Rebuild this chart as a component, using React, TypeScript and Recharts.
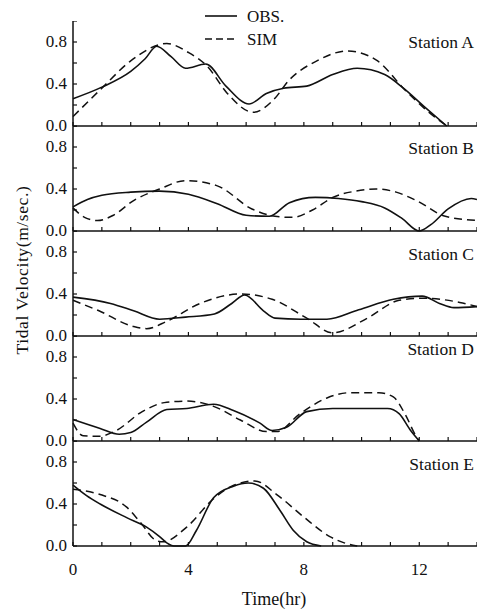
import React from "react";
import { LineChart, Line, XAxis, YAxis } from "recharts";

type Pt = { t: number; v: number };

const hourTicks = [0, 1, 2, 3, 4, 5, 6, 7, 8, 9, 10, 11, 12, 13, 14];
const hourLabels = [0, 4, 8, 12];
const velTicks = [0, 0.2, 0.4, 0.6, 0.8, 1.0];
const velLabels = [0, 0.4, 0.8];
const stationNames = ["Station A", "Station B", "Station C", "Station D", "Station E"];

// observed (solid)
const obsA: Pt[] = [
	{ t: 0, v: 0.26 }, { t: 1, v: 0.37 }, { t: 2, v: 0.52 }, { t: 2.5, v: 0.64 }, { t: 2.9, v: 0.76 },
	{ t: 3.4, v: 0.66 }, { t: 3.9, v: 0.55 }, { t: 4.6, v: 0.59 }, { t: 5.3, v: 0.38 }, { t: 6.1, v: 0.21 },
	{ t: 6.7, v: 0.31 }, { t: 7.3, v: 0.36 }, { t: 8.1, v: 0.38 }, { t: 9.0, v: 0.49 }, { t: 9.85, v: 0.55 },
	{ t: 10.8, v: 0.49 }, { t: 11.45, v: 0.36 }, { t: 12.15, v: 0.19 }, { t: 12.95, v: 0.0 },
];
const obsB: Pt[] = [
	{ t: 0, v: 0.23 }, { t: 0.5, v: 0.3 }, { t: 1, v: 0.34 }, { t: 2, v: 0.37 }, { t: 3, v: 0.38 },
	{ t: 4, v: 0.35 }, { t: 5, v: 0.26 }, { t: 6, v: 0.15 }, { t: 6.8, v: 0.14 }, { t: 7.5, v: 0.27 },
	{ t: 8.4, v: 0.32 }, { t: 9.2, v: 0.31 }, { t: 10, v: 0.28 }, { t: 10.8, v: 0.22 }, { t: 11.4, v: 0.12 },
	{ t: 12, v: 0.0 }, { t: 12.4, v: 0.06 }, { t: 13, v: 0.21 }, { t: 13.8, v: 0.31 }, { t: 14, v: 0.3 },
];
const obsC: Pt[] = [
	{ t: 0, v: 0.37 }, { t: 1.3, v: 0.31 }, { t: 2.1, v: 0.24 }, { t: 3, v: 0.16 }, { t: 3.9, v: 0.18 },
	{ t: 4.9, v: 0.21 }, { t: 5.5, v: 0.31 }, { t: 5.95, v: 0.39 }, { t: 6.6, v: 0.24 }, { t: 7.0, v: 0.17 },
	{ t: 7.9, v: 0.16 }, { t: 8.8, v: 0.16 }, { t: 9.9, v: 0.25 }, { t: 11.1, v: 0.35 }, { t: 12.1, v: 0.38 },
	{ t: 12.7, v: 0.31 }, { t: 13.2, v: 0.27 }, { t: 14, v: 0.28 },
];
const obsD: Pt[] = [
	{ t: 0, v: 0.205 }, { t: 0.94, v: 0.12 }, { t: 1.6, v: 0.065 }, { t: 2.0, v: 0.08 }, { t: 2.55, v: 0.18 },
	{ t: 3.25, v: 0.3 }, { t: 3.94, v: 0.31 }, { t: 4.87, v: 0.35 }, { t: 5.56, v: 0.29 }, { t: 6.48, v: 0.17 },
	{ t: 6.9, v: 0.1 }, { t: 7.4, v: 0.13 }, { t: 8.1, v: 0.28 }, { t: 9.0, v: 0.31 }, { t: 10.0, v: 0.31 },
	{ t: 10.9, v: 0.31 }, { t: 11.3, v: 0.26 }, { t: 11.7, v: 0.1 }, { t: 12.0, v: 0.0 },
];
const obsE: Pt[] = [
	{ t: 0, v: 0.58 }, { t: 0.47, v: 0.48 }, { t: 0.94, v: 0.4 }, { t: 1.86, v: 0.27 }, { t: 2.55, v: 0.18 },
	{ t: 3.0, v: 0.09 }, { t: 3.25, v: 0.03 }, { t: 3.5, v: 0.0 }, { t: 3.9, v: 0.0 }, { t: 4.28, v: 0.15 },
	{ t: 4.87, v: 0.46 }, { t: 5.56, v: 0.57 }, { t: 6.07, v: 0.6 }, { t: 6.6, v: 0.55 }, { t: 7.17, v: 0.34 },
	{ t: 7.63, v: 0.15 }, { t: 8.1, v: 0.04 }, { t: 8.6, v: 0.0 },
];

// simulated (dashed)
const simA: Pt[] = [
	{ t: 0, v: 0.09 }, { t: 1, v: 0.36 }, { t: 2, v: 0.62 }, { t: 3.25, v: 0.785 }, { t: 4, v: 0.7 },
	{ t: 4.65, v: 0.57 }, { t: 5.35, v: 0.31 }, { t: 6.25, v: 0.13 }, { t: 6.95, v: 0.25 }, { t: 7.5, v: 0.44 },
	{ t: 8.45, v: 0.62 }, { t: 9.5, v: 0.715 }, { t: 10.5, v: 0.63 }, { t: 11.55, v: 0.33 }, { t: 12.25, v: 0.15 },
	{ t: 12.95, v: 0.0 },
];
const simB: Pt[] = [
	{ t: 0, v: 0.22 }, { t: 0.4, v: 0.13 }, { t: 0.85, v: 0.1 }, { t: 1.4, v: 0.15 }, { t: 2.1, v: 0.29 },
	{ t: 3, v: 0.4 }, { t: 3.9, v: 0.48 }, { t: 5, v: 0.43 }, { t: 6.2, v: 0.21 }, { t: 7.0, v: 0.14 },
	{ t: 7.6, v: 0.13 }, { t: 8.3, v: 0.2 }, { t: 9.0, v: 0.32 }, { t: 9.8, v: 0.38 }, { t: 10.5, v: 0.4 },
	{ t: 11.2, v: 0.37 }, { t: 11.9, v: 0.29 }, { t: 12.9, v: 0.14 }, { t: 14, v: 0.1 },
];
const simC: Pt[] = [
	{ t: 0, v: 0.34 }, { t: 0.9, v: 0.24 }, { t: 2.1, v: 0.09 }, { t: 2.55, v: 0.07 }, { t: 3.25, v: 0.14 },
	{ t: 4.4, v: 0.31 }, { t: 5.8, v: 0.4 }, { t: 6.9, v: 0.35 }, { t: 8.1, v: 0.17 }, { t: 9.0, v: 0.03 },
	{ t: 10.2, v: 0.17 }, { t: 11.3, v: 0.34 }, { t: 12.1, v: 0.36 }, { t: 13.4, v: 0.32 }, { t: 14, v: 0.28 },
];
const simD: Pt[] = [
	{ t: 0, v: 0.17 }, { t: 0.35, v: 0.05 }, { t: 0.9, v: 0.045 }, { t: 1.5, v: 0.1 }, { t: 2.4, v: 0.28 },
	{ t: 3.25, v: 0.37 }, { t: 3.94, v: 0.38 }, { t: 4.87, v: 0.33 }, { t: 5.8, v: 0.2 }, { t: 6.7, v: 0.09 },
	{ t: 7.06, v: 0.09 }, { t: 7.87, v: 0.26 }, { t: 8.8, v: 0.41 }, { t: 9.6, v: 0.46 }, { t: 10.6, v: 0.46 },
	{ t: 11.1, v: 0.42 }, { t: 11.5, v: 0.26 }, { t: 11.9, v: 0.04 }, { t: 12.0, v: 0.0 },
];
const simE: Pt[] = [
	{ t: 0, v: 0.54 }, { t: 0.94, v: 0.49 }, { t: 1.86, v: 0.37 }, { t: 2.32, v: 0.23 }, { t: 2.9, v: 0.05 },
	{ t: 3.13, v: 0.04 }, { t: 3.94, v: 0.18 }, { t: 4.87, v: 0.45 }, { t: 5.5, v: 0.57 }, { t: 6.3, v: 0.62 },
	{ t: 7.06, v: 0.49 }, { t: 7.98, v: 0.28 }, { t: 8.9, v: 0.09 }, { t: 9.4, v: 0.03 }, { t: 9.85, v: 0.0 },
];

const obsAll = [obsA, obsB, obsC, obsD, obsE];
const simAll = [simA, simB, simC, simD, simE];

const INK = "#111";
const FONT = "'Liberation Serif', 'DejaVu Serif', serif";
const W = 477;
const PLOT_H = 105;
const panelTops = [21, 126, 231, 336, 441];
const labelOffsets = [27, 28, 29, 19, 29];

const XTick = (props: any) => {
	const { x, y, payload, showLabels } = props;
	const labelled = showLabels && hourLabels.includes(payload.value);
	return (
		<g>
			<line x1={x} x2={x} y1={y} y2={y - 4} stroke={INK} strokeWidth={1.2} />
			{labelled && (
				<text x={x} y={y + 29} textAnchor="middle" fontSize={17} fontFamily={FONT} fill={INK}>
					{payload.value}
				</text>
			)}
		</g>
	);
};

const YTick = (props: any) => {
	const { x, y, payload } = props;
	const labelled = velLabels.includes(payload.value);
	return (
		<g>
			<line x1={x} x2={x + 4} y1={y} y2={y} stroke={INK} strokeWidth={1.2} />
			{labelled && (
				<text x={x - 6} y={y + 5} textAnchor="end" fontSize={17} fontFamily={FONT} fill={INK}>
					{payload.value.toFixed(1)}
				</text>
			)}
		</g>
	);
};

const Panel = ({ idx }: { idx: number }) => {
	const last = idx === obsAll.length - 1;
	return (
		<div style={{ position: "absolute", left: 0, top: panelTops[idx] }}>
			<LineChart width={W} height={PLOT_H + 40} margin={{ top: 0, right: 0, bottom: 0, left: 0 }}>
				<XAxis
					dataKey="t"
					type="number"
					domain={[0, 14]}
					ticks={hourTicks}
					interval={0}
					height={40}
					tickSize={0}
					tickMargin={0}
					tickLine={false}
					axisLine={{ stroke: INK, strokeWidth: 1.5 }}
					tick={(p: any) => <XTick {...p} showLabels={last} />}
				/>
				<YAxis
					type="number"
					domain={[0, 1]}
					ticks={velTicks}
					interval={0}
					width={73}
					tickSize={0}
					tickMargin={0}
					tickLine={false}
					axisLine={{ stroke: INK, strokeWidth: 1.5 }}
					tick={(p: any) => <YTick {...p} />}
				/>
				<Line
					data={obsAll[idx]}
					dataKey="v"
					type="monotone"
					stroke={INK}
					strokeWidth={1.6}
					dot={false}
					isAnimationActive={false}
				/>
				<Line
					data={simAll[idx]}
					dataKey="v"
					type="monotone"
					stroke={INK}
					strokeWidth={1.5}
					strokeDasharray="8 5"
					dot={false}
					isAnimationActive={false}
				/>
			</LineChart>
		</div>
	);
};

export default function App() {
	return (
		<div style={{ position: "absolute", left: 0, top: 0, width: W, height: 609, background: "#fff" }}>
			{obsAll.map((_, i) => (
				<Panel key={i} idx={i} />
			))}
			<svg
				width={W}
				height={609}
				style={{ position: "absolute", left: 0, top: 0, pointerEvents: "none" }}
			>
				<line x1={205} x2={237} y1={16} y2={16} stroke={INK} strokeWidth={1.6} />
				<text x={247} y={22} fontSize={17} fontFamily={FONT} fill={INK}>OBS.</text>
				<line x1={205} x2={237} y1={39} y2={39} stroke={INK} strokeWidth={1.5} strokeDasharray="7 4" />
				<text x={247} y={45} fontSize={17} fontFamily={FONT} fill={INK}>SIM</text>
				{stationNames.map((s, i) => (
					<text
						key={s}
						x={474}
						y={panelTops[i] + labelOffsets[i]}
						textAnchor="end"
						fontSize={17.5}
						fontFamily={FONT}
						fill={INK}
					>
						{s}
					</text>
				))}
				<text
					transform="translate(28,270) rotate(-90)"
					textAnchor="middle"
					fontSize={17.5}
					letterSpacing={0.6}
					fontFamily={FONT}
					fill={INK}
				>
					Tidal Velocity(m/sec.)
				</text>
				<text x={274} y={605} textAnchor="middle" fontSize={18} fontFamily={FONT} fill={INK}>
					Time(hr)
				</text>
			</svg>
		</div>
	);
}
